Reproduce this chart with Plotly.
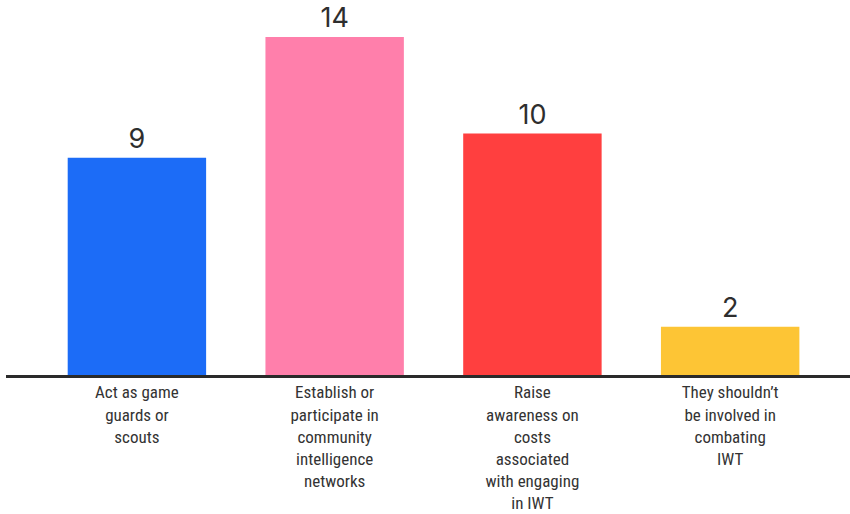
import plotly.graph_objects as go

categories = [
    "Act as game<br>guards or<br>scouts",
    "Establish or<br>participate in<br>community<br>intelligence<br>networks",
    "Raise<br>awareness on<br>costs<br>associated<br>with engaging<br>in IWT",
    "They shouldn\u2019t<br>be involved in<br>combating<br>IWT",
]
values = [9, 14, 10, 2]
colors = ["#1c6cf7", "#ff7fab", "#ff3f3f", "#fdc535"]

fig = go.Figure(
    go.Bar(
        x=list(range(len(categories))),
        y=values,
        marker=dict(color=colors, line=dict(width=0)),
        width=0.70,
        text=[str(v) for v in values],
        textposition="outside",
        textfont=dict(family="Inter, Roboto, sans-serif", size=27, color="#2e2e2e"),
        cliponaxis=False,
    )
)

fig.update_layout(
    width=850,
    height=514,
    margin=dict(l=6, r=0, t=0, b=139),
    paper_bgcolor="white",
    plot_bgcolor="white",
    showlegend=False,
    bargap=0.3,
)
fig.update_xaxes(
    range=[-0.662, 3.606],
    tickmode="array",
    tickvals=list(range(len(categories))),
    ticktext=categories,
    tickfont=dict(family="Liberation Sans Narrow, Roboto Condensed, Roboto, sans-serif", size=17, color="#333333"),
    showline=True,
    linecolor="#2a2a2a",
    linewidth=3,
    ticks="",
    showgrid=False,
    zeroline=False,
    automargin=False,
)
fig.update_yaxes(
    range=[0, 15.53],
    visible=False,
    showgrid=False,
    zeroline=False,
    automargin=False,
)

fig.write_html("out.html")
